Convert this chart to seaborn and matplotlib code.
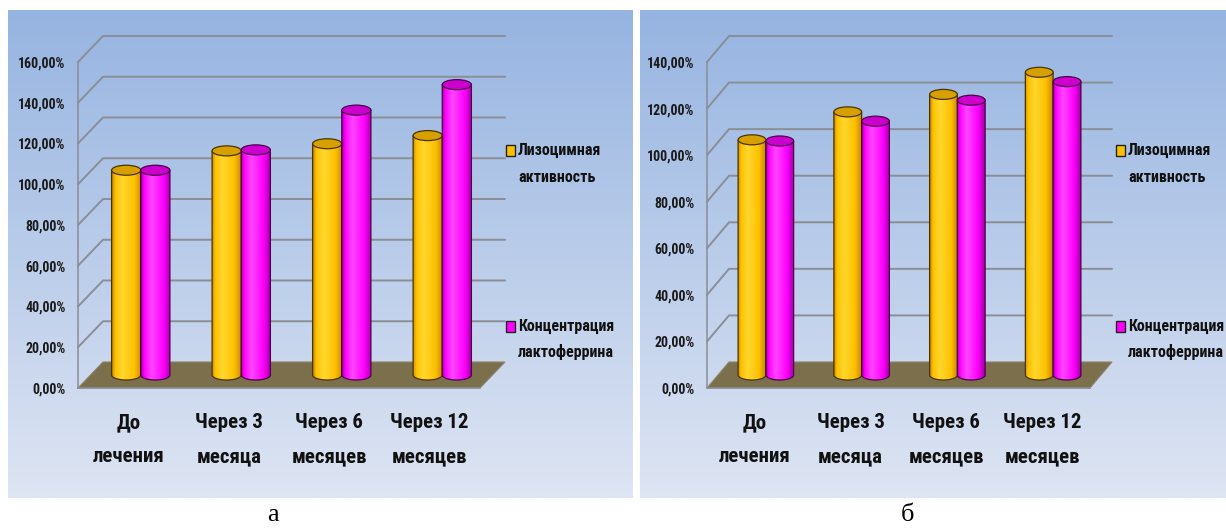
import numpy as np
import pandas as pd
import matplotlib
matplotlib.use("Agg")
import matplotlib.pyplot as plt
from matplotlib import font_manager, transforms
from matplotlib.patches import Polygon, Ellipse, PathPatch, Rectangle
from matplotlib.path import Path
from matplotlib.ticker import FuncFormatter
import seaborn as sns

# ---- data -------------------------------------------------------------
categories = ["До\nлечения", "Через 3\nмесяца", "Через 6\nмесяцев", "Через 12\nмесяцев"]
series_names = ["Лизоцимная\nактивность", "Концентрация\nлактоферрина"]

lysozyme_a = [100.5, 110.0, 113.5, 117.5]
lactoferrin_a = [100.5, 110.5, 130.0, 142.5]

lysozyme_b = [101.0, 113.0, 120.5, 130.0]
lactoferrin_b = [100.5, 109.0, 118.0, 126.0]

yticks_a = [0, 20, 40, 60, 80, 100, 120, 140, 160]
yticks_b = [0, 20, 40, 60, 80, 100, 120, 140]

panel_captions = ["а", "б"]

# ---- style ------------------------------------------------------------
sns.set_style("white")
available = {f.name for f in font_manager.fontManager.ttflist}
narrow = next((n for n in ["Liberation Sans Narrow", "Roboto Condensed",
                           "Open Sans Condensed"] if n in available),
              "Liberation Sans")
plt.rcParams["font.family"] = [narrow, "DejaVu Sans"]
plt.rcParams["font.weight"] = "bold"

YELLOW = "#FFC000"
MAGENTA = "#FF00FF"
GRID = "#8a8e96"
FLOOR = "#7b6f4c"

# body shading: (dark edge, base, highlight), cap colour, outline
STYLES = [
    dict(dark=(200, 138, 0), base=(255, 192, 0), light=(255, 215, 45),
         cap="#d6a000", edge="#4a3500"),
    dict(dark=(165, 0, 165), base=(255, 0, 255), light=(255, 70, 255),
         cap="#cc00cc", edge="#4a004a"),
]


def shading(style, n=64):
    t = np.linspace(0, 1, n)
    stops = [0.0, 0.10, 0.35, 0.75, 1.0]
    cols = [style["dark"], style["base"], style["light"], style["base"], style["dark"]]
    rgb = np.stack([np.interp(t, stops, [c[k] for c in cols]) for k in range(3)], axis=-1)
    return (rgb / 255.0)[np.newaxis, :, :]


fig = plt.figure(figsize=(12.26, 5.28), dpi=100)
fig.patch.set_facecolor("white")

# backdrop layer in pixel coordinates
bg = fig.add_axes([0, 0, 1, 1], zorder=-1)
bg.set_xlim(0, 1226)
bg.set_ylim(528, 0)
bg.axis("off")

top_col = np.array([150, 180, 225]) / 255.0
bot_col = np.array([222, 229, 243]) / 255.0
ramp = np.linspace(0, 1, 256)[:, None]
backdrop = (top_col * (1 - ramp) + bot_col * ramp)[:, np.newaxis, :]
for (l, r) in [(8, 633), (640, 1226)]:
    bg.imshow(backdrop, extent=[l, r, 498, 10], aspect="auto", zorder=0,
              interpolation="bilinear")
bg.set_xlim(0, 1226)
bg.set_ylim(528, 0)


def pct(v, _pos=None):
    return f"{v:.2f}%".replace(".", ",")


def draw_panel(rect, lys, lac, yticks, depth_px):
    ax = fig.add_axes(rect)
    ax.patch.set_alpha(0)
    df = pd.DataFrame({
        "period": categories * 2,
        "value": list(lys) + list(lac),
        "series": [series_names[0]] * len(categories) + [series_names[1]] * len(categories),
    })
    sns.barplot(data=df, x="period", y="value", hue="series", order=categories,
                hue_order=series_names, palette=[YELLOW, MAGENTA], width=0.58,
                saturation=1, errorbar=None, legend=False, ax=ax)
    ymax = yticks[-1]
    ax.set_xlim(-0.5, 3.5)
    ax.set_ylim(0, ymax)

    p0 = ax.transData.transform((0, 0))
    p1 = ax.transData.transform((1, 1))
    ppx, ppy = p1[0] - p0[0], p1[1] - p0[1]
    dxd, dyd = depth_px[0] / ppx, depth_px[1] / ppy

    # side wall and back wall grid
    for v in yticks[1:]:
        ax.plot([-0.5, -0.5 + dxd, 3.5 + dxd], [v, v + dyd, v + dyd],
                color=GRID, lw=1.4, clip_on=False, zorder=0.5,
                solid_joinstyle="miter")
    ax.add_patch(Polygon([(-0.5, 0), (3.5, 0), (3.5 + dxd, dyd), (-0.5 + dxd, dyd)],
                         closed=True, fc=FLOOR, ec="#8c8470", lw=0.8,
                         clip_on=False, zorder=1))

    # cylinders sit half-way into the depth
    shift = transforms.Affine2D().translate(dxd / 2, dyd / 2) + ax.transData
    eh = 5.0 / ppy
    theta = np.linspace(np.pi, 2 * np.pi, 48)
    for h, cont in enumerate(ax.containers):
        st = STYLES[h]
        grad = shading(st)
        for i, bar in enumerate(cont):
            z = 2 + h + i * 0.01
            bar.set_transform(shift)
            bar.set_edgecolor("none")
            bar.set_zorder(z)
            xl, w = bar.get_x(), bar.get_width()
            ybot, top = bar.get_y(), bar.get_y() + bar.get_height()
            xr, xc = xl + w, xl + w / 2
            verts = [(xl, top)] + list(zip(xc + w / 2 * np.cos(theta),
                                           ybot + eh * np.sin(theta))) + [(xr, top), (xl, top)]
            outline = PathPatch(Path(verts), fc="none", ec=st["edge"], lw=0.9,
                                transform=shift, zorder=z + 0.002)
            ax.add_patch(outline)
            im = ax.imshow(grad, extent=[xl, xr, ybot - eh, top], aspect="auto",
                           transform=shift, zorder=z + 0.001,
                           interpolation="bilinear")
            im.set_clip_path(outline)
            ax.add_patch(Ellipse((xc, top), w, 2 * eh, fc=st["cap"], ec=st["edge"],
                                 lw=0.9, transform=shift, zorder=z + 0.003))

    ax.set_xlim(-0.5, 3.5)
    ax.set_ylim(0, ymax)
    ax.set_xlabel("")
    ax.set_ylabel("")
    for s in ["top", "right"]:
        ax.spines[s].set_visible(False)
    for s in ["left", "bottom"]:
        ax.spines[s].set_color(GRID)
        ax.spines[s].set_linewidth(1.1)

    ax.set_yticks(yticks)
    ax.yaxis.set_major_formatter(FuncFormatter(pct))
    ax.tick_params(axis="y", length=5, width=1.1, color=GRID, pad=4,
                   labelsize=10, labelcolor="#1a1a1a")
    ax.set_xticks(range(len(categories)), labels=categories)
    ax.set_xticks([-0.5, 0.5, 1.5, 2.5, 3.5], minor=True)
    ax.tick_params(axis="x", which="major", length=0, pad=18, labelsize=15,
                   labelcolor="#111111")
    ax.tick_params(axis="x", which="minor", length=6, width=1.1, color=GRID)
    for lbl in ax.get_xticklabels():
        lbl.set_linespacing(2.0)
    return ax


draw_panel([78 / 1226, 140 / 528, 402 / 1226, 326 / 528],
           lysozyme_a, lactoferrin_a, yticks_a, (25, 26))
draw_panel([707 / 1226, 140 / 528, 383 / 1226, 326 / 528],
           lysozyme_b, lactoferrin_b, yticks_b, (22, 26))

# legends
for x0 in (506, 1116):
    for k, (col, (y1, y2)) in enumerate(zip([YELLOW, MAGENTA], [(150, 177), (326, 352)])):
        bg.add_patch(Rectangle((x0, y1 - 5.5), 9, 11, fc=col, ec="#222222", lw=1.0, zorder=3))
        line1, line2 = series_names[k].split("\n")
        bg.text(x0 + 12, y1, line1, fontsize=11.5, va="center", ha="left",
                color="#111111", zorder=3)
        bg.text(x0 + 12, y2, line2, fontsize=11.5, va="center", ha="left",
                color="#111111", zorder=3)

for x, cap in zip((273, 907), panel_captions):
    bg.text(x, 515, cap, fontsize=19, fontweight="normal", ha="center", va="center",
            family=["Liberation Serif", "DejaVu Serif"], color="black")

fig.savefig("out.png", dpi=100)
